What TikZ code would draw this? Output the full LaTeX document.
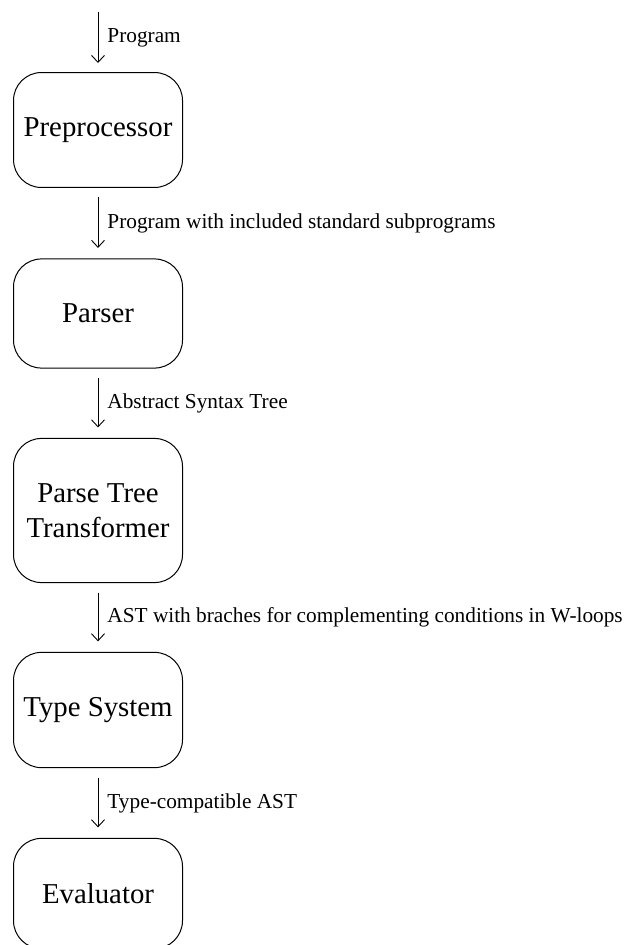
\documentclass[tikz,border=0pt]{standalone}
\usepackage{fontspec}
\setmainfont{Liberation Serif}
\usetikzlibrary{arrows.meta}
\begin{document}
\begin{tikzpicture}[x=1pt,y=1pt,
  stage/.style={draw, line width=1pt, rounded corners=28pt, minimum width=169pt,
    inner xsep=6pt, inner ysep=45pt, align=center,
    font=\fontsize{28.8}{35}\selectfont},
  flow/.style={draw, line width=0.9pt,
    -{Straight Barb[length=7pt,width=13pt]},
    shorten <=9.5pt, shorten >=10.5pt},
  lbl/.style={anchor=west, inner sep=0pt, xshift=9pt,
    font=\fontsize{21.3}{25}\selectfont}]
\useasboundingbox (0,0) rectangle (628,-945);
\coordinate (in) at (98,-12);
\node[stage] (pre) at (98,-130) {Preprocessor};
\node[stage] (par) at (98,-313.5) {Parser};
\node[stage] (ptt) at (98,-510.5) {Parse Tree\\Transformer};
\node[stage] (typ) at (98,-710) {Type System};
\node[stage] (eva) at (98,-893.5) {Evaluator};
\draw[flow, shorten <=0pt, shorten >=9pt] (in) -- (pre.north)
  node[lbl, pos=0.425] {Program};
\draw[flow] (pre.south) -- (par.north)
  node[lbl, midway] {Program with included standard subprograms};
\draw[flow] (par.south) -- (ptt.north)
  node[lbl, midway] {Abstract Syntax Tree};
\draw[flow] (ptt.south) -- (typ.north)
  node[lbl, midway] {AST with braches for complementing conditions in W-loops};
\draw[flow] (typ.south) -- (eva.north)
  node[lbl, midway] {Type-compatible AST};
\end{tikzpicture}
\end{document}
